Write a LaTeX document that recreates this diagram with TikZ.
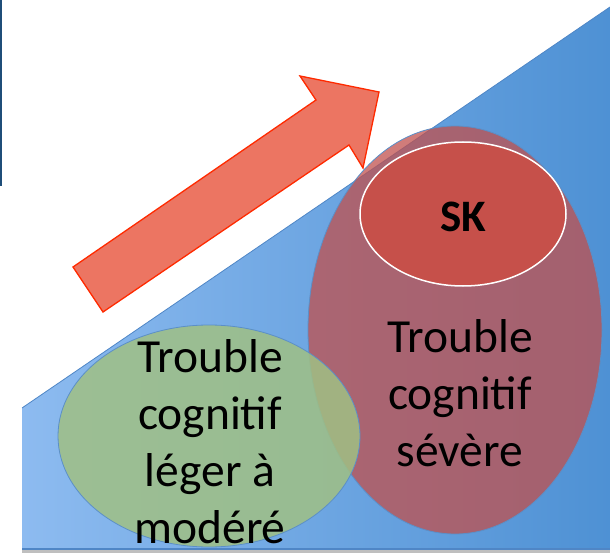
\documentclass[tikz,border=0pt]{standalone}
\usepackage{fontspec}
\setmainfont{Carlito}
\usetikzlibrary{shapes.geometric}
\definecolor{triL}{HTML}{8DBBF0}
\definecolor{triR}{HTML}{4E91D4}
\definecolor{triEdge}{HTML}{4F86C6}
\definecolor{arrFill}{HTML}{EC7562}
\definecolor{arrEdge}{HTML}{FF2A00}
\definecolor{redBig}{HTML}{C0504D}
\definecolor{skFill}{HTML}{C6504A}
\definecolor{greenFill}{HTML}{A0C084}
\definecolor{ellEdge}{HTML}{5B8FC8}
\definecolor{leftBar}{HTML}{1F4E79}
\definecolor{shadowGrey}{HTML}{BFBFBF}
\tikzset{
  bigtext/.style={font=\fontsize{47.5}{57}\selectfont, align=center, text=black, inner sep=0pt},
  bubble/.style={ellipse, inner sep=0pt, draw=ellEdge, line width=0.8pt}
}
\begin{document}
\begin{tikzpicture}[x=1pt,y=-1pt]
\useasboundingbox (0,0) rectangle (610,553);
% left bar
\fill[leftBar] (0,0) rectangle (2,186);
% grey shadow strip
\fill[shadowGrey] (22,549) rectangle (610,553);
% triangle
\shade[left color=triL, right color=triR] (22,408) -- (610,7) -- (610,549) -- (22,549) -- cycle;
\draw[triEdge, line width=0.8pt] (22,408) -- (610,7);
\draw[triEdge, line width=1.5pt] (22,549) -- (610,549);
% arrow
\filldraw[fill=arrFill, draw=arrEdge, line width=1.3pt, line join=miter]
  (73,267) -- (316,100) -- (300,76) -- (379,92) -- (363,168) -- (349,145) -- (103,312) -- cycle;
% big red ellipse
\node[bubble, fill=redBig, fill opacity=0.75, minimum width=294pt, minimum height=408pt] (severe) at (455,330) {};
% SK ellipse
\node[ellipse, inner sep=0pt, fill=skFill, draw=white, line width=1.5pt, minimum width=206pt, minimum height=144pt] (sk) at (463,214) {};
% green ellipse
\node[bubble, fill=greenFill, fill opacity=0.85, minimum width=302pt, minimum height=222pt] (leger) at (209,436) {};
% texts
\node[font=\fontsize{45}{57}\selectfont\bfseries, inner sep=0pt] (sktext) at (463,217) {SK};
\node[bigtext] (severetext) at (460,393) {Trouble\\cognitif\\sévère};
\node[bigtext] (legertext) at (210,442) {Trouble\\cognitif\\léger à\\modéré};
\end{tikzpicture}
\end{document}
